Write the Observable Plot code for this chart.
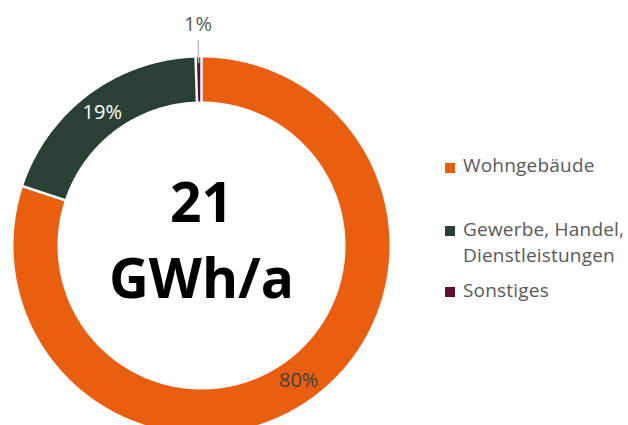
<!DOCTYPE html>
<html><head><meta charset="utf-8">
<script src="https://cdn.jsdelivr.net/npm/d3@7"></script>
<script src="https://cdn.jsdelivr.net/npm/@observablehq/plot@0.6"></script>
<style>
body{margin:0;background:#fff;}
#chart{position:relative;width:628px;height:425px;overflow:hidden;font-family:"Open Sans",sans-serif;}
#legend{position:absolute;left:0;top:0;color:#595959;font-size:19px;letter-spacing:0.2px;}
.sw{position:absolute;width:10px;height:10px;}
.lt{position:absolute;white-space:pre;line-height:26px;}
</style></head>
<body><div id="chart"></div>
<script>
const categories = ["Wohngebäude", "Gewerbe, Handel, Dienstleistungen", "Sonstiges"];
const shares = [80.1, 19.4, 0.5];
const colors = ["#E95E0F", "#2A4035", "#5F0F35"];
const labelColors = ["#404040", "#ffffff", "#595959"];
const legendLabels = ["Wohngebäude", "Gewerbe, Handel,\nDienstleistungen", "Sonstiges"];
const centerLines = ["21", "GWh/a"];

const R1 = 1, R0 = 144 / 188;
const total = d3.sum(shares);
let acc = 0;
const slices = shares.map((v, i) => {
  const a0 = acc / total * 2 * Math.PI; acc += v;
  const a1 = acc / total * 2 * Math.PI;
  return {cat: categories[i], v, a0, a1, i};
});
const pt = (r, a) => ({x: r * Math.sin(a), y: r * Math.cos(a)});
const poly = [];
for (const s of slices) {
  const n = Math.max(2, Math.ceil((s.a1 - s.a0) / (Math.PI / 360)));
  for (let k = 0; k <= n; k++) poly.push({cat: s.cat, ...pt(R1, s.a0 + (s.a1 - s.a0) * k / n)});
  for (let k = n; k >= 0; k--) poly.push({cat: s.cat, ...pt(R0, s.a0 + (s.a1 - s.a0) * k / n)});
}
const seps = slices.map(s => ({p0: pt(R0 - 0.01, s.a0), p1: pt(R1 + 0.01, s.a0)}));
const labels = slices.map(s => {
  const m = (s.a0 + s.a1) / 2;
  const outside = s.i === 2;
  return {...pt(outside ? 1.175 : (R0 + R1) / 2, m), text: Math.round(s.v) + "%", fill: labelColors[s.i]};
});
const leader = slices.filter(s => s.i === 2).map(s => {
  const m = (s.a0 + s.a1) / 2;
  return {p0: pt(0.97, m), p1: pt(1.09, m)};
});

const plot = Plot.plot({
  width: 628, height: 425, margin: 0,
  x: {domain: [-1, 1], range: [13, 389], axis: null},
  y: {domain: [-1, 1], range: [433, 57], axis: null},
  color: {domain: categories, range: colors},
  style: {fontFamily: "Open Sans, sans-serif", background: "#fff", overflow: "hidden"},
  marks: [
    Plot.line(poly, {x: "x", y: "y", z: "cat", fill: "cat", stroke: null, curve: "linear-closed"}),
    Plot.link(seps, {x1: d => d.p0.x, y1: d => d.p0.y, x2: d => d.p1.x, y2: d => d.p1.y, stroke: "white", strokeWidth: 2.5}),
    Plot.link(leader, {x1: d => d.p0.x, y1: d => d.p0.y, x2: d => d.p1.x, y2: d => d.p1.y, stroke: "#bfbfbf", strokeWidth: 1.5}),
    Plot.text(labels, {x: "x", y: "y", text: "text", fill: d => d.fill, fontSize: 20}),
    Plot.text([{x: 0, y: 0, t: centerLines.join("\n")}], {x: "x", y: "y", text: "t", fontSize: 55, fontWeight: 700, lineHeight: 1.38, fill: "#000", dy: -10})
  ]
});
const chart = document.getElementById("chart");
chart.appendChild(plot);
const legend = document.createElement("div");
legend.id = "legend";
const swTop = [163, 226, 287];
const txTop = [152, 216, 277];
legendLabels.forEach((l, i) => {
  const sw = document.createElement("div");
  sw.className = "sw"; sw.style.left = "445px"; sw.style.top = swTop[i] + "px"; sw.style.background = colors[i];
  const t = document.createElement("div");
  t.className = "lt"; t.style.left = "463px"; t.style.top = txTop[i] + "px"; t.textContent = l;
  legend.appendChild(sw); legend.appendChild(t);
});
chart.appendChild(legend);
</script></body></html>
